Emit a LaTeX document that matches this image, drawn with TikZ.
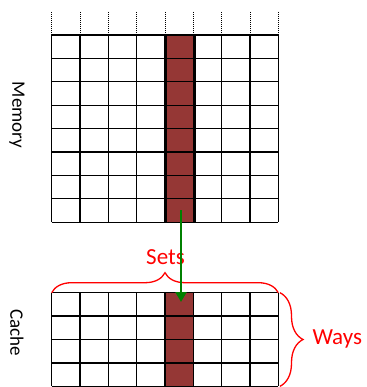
\documentclass[tikz,border=0pt]{standalone}
\usepackage{fontspec}
\setmainfont{Carlito}
\usetikzlibrary{decorations.pathreplacing, arrows.meta, positioning}

\definecolor{setred}{RGB}{149,55,53}
\definecolor{arrgreen}{RGB}{0,128,0}

\begin{document}
\begin{tikzpicture}[
          x=1pt, y=-1pt,
          cell/.style={draw=black, line width=1.3pt},
          hit/.style={fill=setred},
          side/.style={font=\fontsize{19}{22}\selectfont, rotate=-90},
          redlbl/.style={text=red, font=\fontsize{23}{27}\selectfont},
          brc/.style={decorate, draw=red, line width=1.3pt,
                      decoration={brace, amplitude=#1}},
          arr/.style={-{Triangle[length=10pt, width=11pt]}, draw=arrgreen,
                      line width=2.9pt},
        ]
          \useasboundingbox (0,0) rectangle (366,387);
          % memory block
          \fill[hit] (166,35) rectangle (194.3,222.2);
          \foreach \i in {0,...,8}{
            \draw[cell] ({51.7+28.33*\i},35) -- ({51.7+28.33*\i},222.2);
            \draw[densely dotted, line width=1pt] ({51.7+28.33*\i},12) -- ({51.7+28.33*\i},35);
            \draw[cell] (51.7,{35+23.4*\i}) -- (278.3,{35+23.4*\i});
          }
          \draw[line width=2.4pt] (166,35) -- (166,222.2) (194.3,35) -- (194.3,222.2);
          % cache block
          \fill[hit] (166,292.7) rectangle (194.3,386.3);
          \foreach \i in {0,...,8}
            \draw[cell] ({51.7+28.33*\i},292.7) -- ({51.7+28.33*\i},386.3);
          \foreach \j in {0,...,4}
            \draw[cell] (51.7,{292.7+23.4*\j}) -- (278.3,{292.7+23.4*\j});
          % labels
          \node[side] (mem) at (17,115) {Memory};
          \node[side] (cache) at (17,333) {Cache};
          \node[redlbl] (sets) at (165.5,257) {Sets};
          \node[redlbl, anchor=west] (ways) at (309,339) {Ways};
          % braces
          \coordinate (sl) at (51.7,292.7);
          \coordinate (sr) at (278.3,292.7);
          \coordinate (wt) at (280,292.7);
          \coordinate (wb) at (280,386.3);
          \draw[brc=20pt] (sl) -- (sr);
          \draw[brc=23pt] (wt) -- (wb);
          % mapping arrow
          \coordinate (memset) at (181,210);
          \coordinate (cacheset) at (181,302);
          \draw[arr] (memset) -- (cacheset);
        \end{tikzpicture}
\end{document}
